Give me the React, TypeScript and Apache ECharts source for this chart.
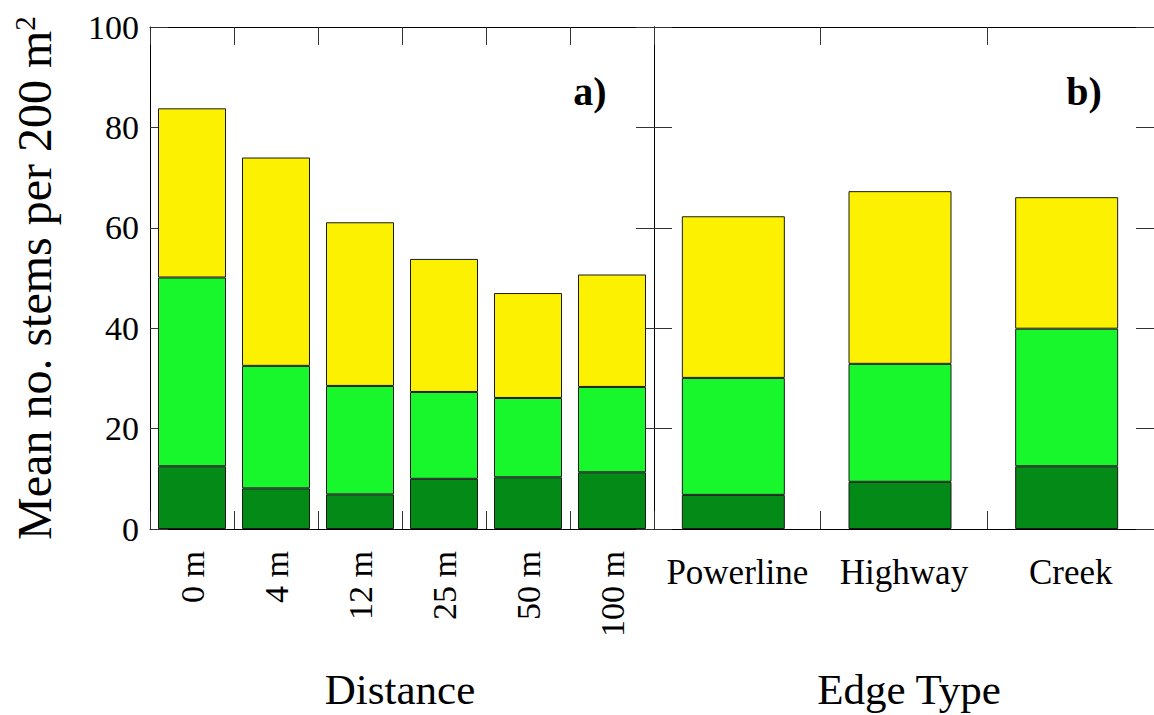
import React, { useEffect, useRef } from "react";
import * as echarts from "echarts";

const distanceCats = ["0 m", "4 m", "12 m", "25 m", "50 m", "100 m"];
const edgeCats = ["Powerline", "Highway", "Creek"];

// segment heights (bottom -> top)
const distDark = [12.5, 8.1, 6.9, 10.0, 10.3, 11.3];
const distLight = [37.6, 24.4, 21.6, 17.3, 15.8, 17.0];
const distYellow = [33.7, 41.5, 32.6, 26.5, 20.9, 22.4];

const edgeDark = [6.8, 9.4, 12.5];
const edgeLight = [23.3, 23.5, 27.4];
const edgeYellow = [32.2, 34.4, 26.2];
const edgeSpacer = [null, null, null];

const yTicks = [0, 20, 40, 60, 80, 100];

const FONT = "Times New Roman";
const C_DARK = "#048a17";
const C_LIGHT = "#18f72b";
const C_YELLOW = "#fbf100";

export default function App() {
  const ref = useRef<HTMLDivElement>(null);
  useEffect(() => {
    if (!ref.current) return;
    const chart = echarts.init(ref.current, undefined, { renderer: "svg" });
    const axisLine = () => ({ show: true, onZero: false, lineStyle: { color: "#000", width: 1 } });
    const tick = () => ({ show: true, inside: true, length: 18, lineStyle: { color: "#333", width: 1 } });
    const xCat = (grid: number, data: string[], pos: "top" | "bottom", labels: boolean, rotate: number) => ({
      type: "category",
      gridIndex: grid,
      data,
      position: pos,
      axisLine: axisLine(),
      axisTick: tick(),
      axisLabel: labels
        ? {
            show: true,
            interval: 0,
            hideOverlap: false,
            rotate,
            fontSize: rotate ? 34 : 35,
            fontFamily: FONT,
            color: "#000",
            margin: rotate ? 22 : 26,
          }
        : { show: false },
      splitLine: { show: false },
    });
    const yVal = (grid: number, pos: "left" | "right", labels: boolean) => ({
      type: "value",
      gridIndex: grid,
      position: pos,
      min: 0,
      max: 100,
      interval: 20,
      axisLine: axisLine(),
      axisTick: tick(),
      axisLabel: labels
        ? {
            show: true,
            fontSize: 34,
            fontFamily: FONT,
            color: "#000",
            margin: 11,
            formatter: (v: number) => (yTicks.includes(v) ? String(v) : ""),
          }
        : { show: false },
      splitLine: { show: false },
    });
    const bar = (name: string, xi: number, yi: number, data: any[], color: string, w: number, stack: string) => ({
      name,
      type: "bar",
      xAxisIndex: xi,
      yAxisIndex: yi,
      stack,
      data,
      barWidth: w,
      barGap: "0%",
      itemStyle: { color, borderColor: "#1a1a1a", borderWidth: 1 },
    });
    chart.setOption({
      animation: false,
      backgroundColor: "#fff",
      grid: [
        { left: 150, top: 27, width: 504, height: 502 },
        { left: 654, top: 27, width: 504, height: 502 },
      ],
      xAxis: [
        xCat(0, distanceCats, "bottom", true, 90),
        xCat(0, distanceCats, "top", false, 0),
        xCat(1, edgeCats, "bottom", true, 0),
        xCat(1, edgeCats, "top", false, 0),
      ],
      yAxis: [yVal(0, "left", true), yVal(0, "right", false), yVal(1, "left", false), yVal(1, "right", false)],
      series: [
        bar("dark", 0, 0, distDark, C_DARK, 68, "a"),
        bar("light", 0, 0, distLight, C_LIGHT, 68, "a"),
        bar("yellow", 0, 0, distYellow, C_YELLOW, 68, "a"),
        bar("dark", 2, 2, edgeDark, C_DARK, 103, "b"),
        bar("light", 2, 2, edgeLight, C_LIGHT, 103, "b"),
        bar("yellow", 2, 2, edgeYellow, C_YELLOW, 103, "b"),
        {
          name: "spacer",
          type: "bar",
          xAxisIndex: 2,
          yAxisIndex: 2,
          stack: "spacer",
          data: edgeSpacer,
          barWidth: 8,
          barGap: "0%",
          silent: true,
          itemStyle: { color: "transparent" },
        },
      ],
      graphic: [
        {
          type: "text",
          x: 34,
          y: 278,
          rotation: Math.PI / 2,
          style: {
            text: "Mean no. stems per 200 m{sup|2}",
            fontSize: 48,
            fontFamily: FONT,
            fill: "#000",
            align: "center",
            verticalAlign: "middle",
            rich: {
              sup: { fontSize: 29, fontFamily: FONT, verticalAlign: "top", fill: "#000" },
            },
          },
        },
        {
          type: "text",
          x: 400,
          y: 689,
          style: { text: "Distance", fontSize: 43, fontFamily: FONT, fill: "#000", align: "center", verticalAlign: "middle" },
        },
        {
          type: "text",
          x: 909,
          y: 689,
          style: { text: "Edge Type", fontSize: 43, fontFamily: FONT, fill: "#000", align: "center", verticalAlign: "middle" },
        },
        {
          type: "text",
          x: 590,
          y: 91,
          style: { text: "a)", fontSize: 40, fontWeight: "bold", fontFamily: FONT, fill: "#000", align: "center", verticalAlign: "middle" },
        },
        {
          type: "text",
          x: 1084,
          y: 91,
          style: { text: "b)", fontSize: 40, fontWeight: "bold", fontFamily: FONT, fill: "#000", align: "center", verticalAlign: "middle" },
        },
      ],
    });
    return () => chart.dispose();
  }, []);
  return (
    <div
      ref={ref}
      style={{ position: "fixed", left: 0, top: 0, width: 1154, height: 715, background: "#fff" }}
    />
  );
}
